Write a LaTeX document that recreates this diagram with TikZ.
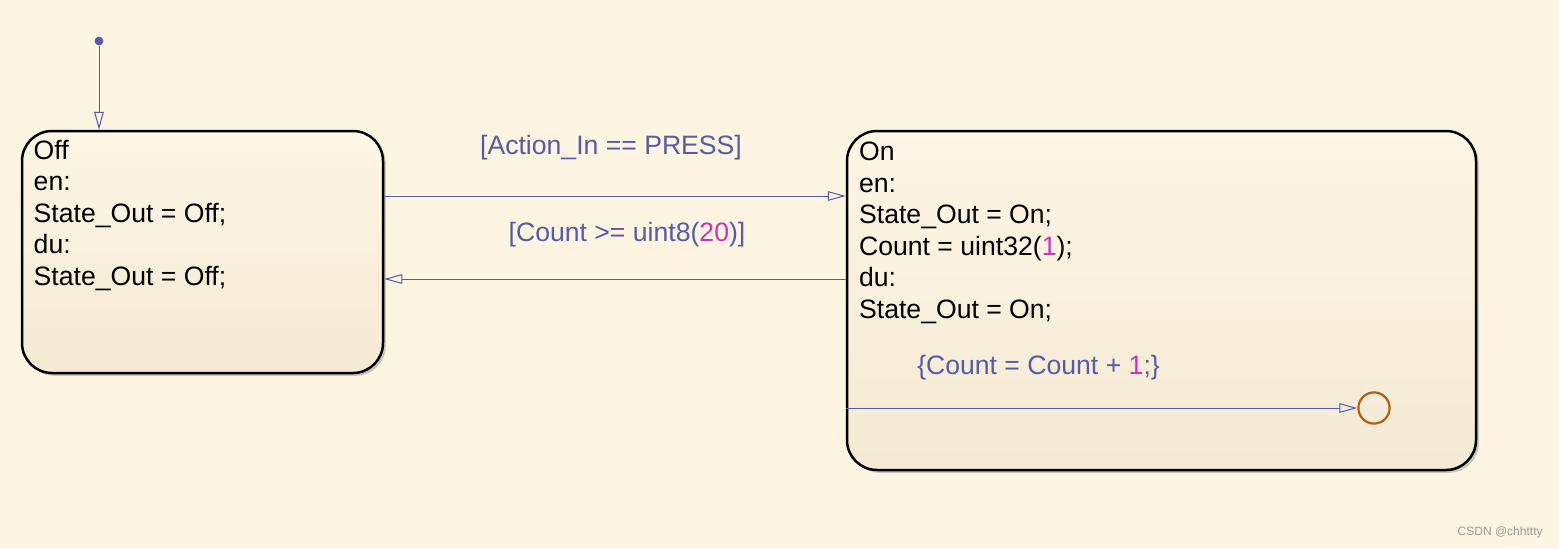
\documentclass[tikz,border=0pt]{standalone}
\usepackage{fontspec}
\setmainfont{Liberation Sans}
\usetikzlibrary{arrows.meta,positioning,fit,shadows}
\definecolor{chartbg}{RGB}{253,244,225}
\definecolor{stateTop}{RGB}{254,246,230}
\definecolor{stateBottom}{RGB}{244,233,211}
\definecolor{transBlue}{RGB}{84,92,168}
\definecolor{numMagenta}{RGB}{204,51,187}
\definecolor{juncBrown}{RGB}{184,90,16}

\begin{document}
\begin{tikzpicture}[x=0.5pt,y=-0.5pt,node distance=1.5cm]
			\tikzstyle{chartstate} = [rectangle, draw=black, line width=1.25pt, rounded corners=15pt, inner sep=0pt, top color=stateTop, bottom color=stateBottom, drop shadow={shadow xshift=1.4pt, shadow yshift=-1.4pt, opacity=0.4}];
			\tikzstyle{statetext} = [align=left, inner sep=0pt, font=\fontsize{13.3}{15.75}\selectfont];
			\tikzstyle{trans} = [draw=transBlue, line width=0.5pt, -{Triangle[open, length=9pt, width=4.8pt]}];
			\tikzstyle{guard} = [text=transBlue, inner sep=0pt, font=\fontsize{13.3}{15.7}\selectfont];
			\tikzstyle{initdot} = [circle, fill=transBlue, inner sep=0pt, minimum size=4.4pt];
			\tikzstyle{junction} = [circle, draw=juncBrown, line width=1.1pt, inner sep=0pt, minimum size=15.6pt];
			\fill [chartbg] (0,0) rectangle (1559,548);
			\useasboundingbox (0,0) rectangle (1559,548);

			% states
			\draw node [chartstate, fit={(22,131) (383,373)}] (off) {};
			\draw node [chartstate, fit={(847,131) (1476,470)}] (on) {};
			\draw node [statetext, anchor=north west] (offtext) at ([xshift=6.3pt, yshift=-5pt]off.north west) {Off\\en:\\State\_Out = Off;\\du:\\State\_Out = Off;};
			\draw node [statetext, anchor=north west] (ontext) at ([xshift=6.5pt, yshift=-5.9pt]on.north west) {On\\en:\\State\_Out = On;\\Count = uint32(\textcolor{numMagenta}{1});\\du:\\State\_Out = On;};

			% default transition and junction
			\draw node [initdot] (init) at (99,41) {};
			\draw node [junction] (junc) at (1374,408) {};
			\coordinate (rowpress) at (0,196);
			\coordinate (rowcount) at (0,279);

			\draw [trans] (init) -- (init |- off.north);
			\path [trans] (off.east |- rowpress) -- (on.west |- rowpress) node [guard, midway, above=17.6pt, xshift=-2pt] {[Action\_In == PRESS]};
			\path [trans] (on.west |- rowcount) -- (off.east |- rowcount) node [guard, midway, above=15.6pt, xshift=6pt] {[Count >= uint8(\textcolor{numMagenta}{20})]};
			\path [trans] (on.west |- junc) -- (junc) node [guard, pos=0, above right=13.6pt and 35.5pt] {\{Count = Count + \textcolor{numMagenta}{1};\}};

			\draw node [text=black!40, inner sep=0pt, font=\fontsize{6}{7}\selectfont, anchor=east] (mark) at (1543,532) {CSDN @chhttty};
		\end{tikzpicture}
\end{document}
